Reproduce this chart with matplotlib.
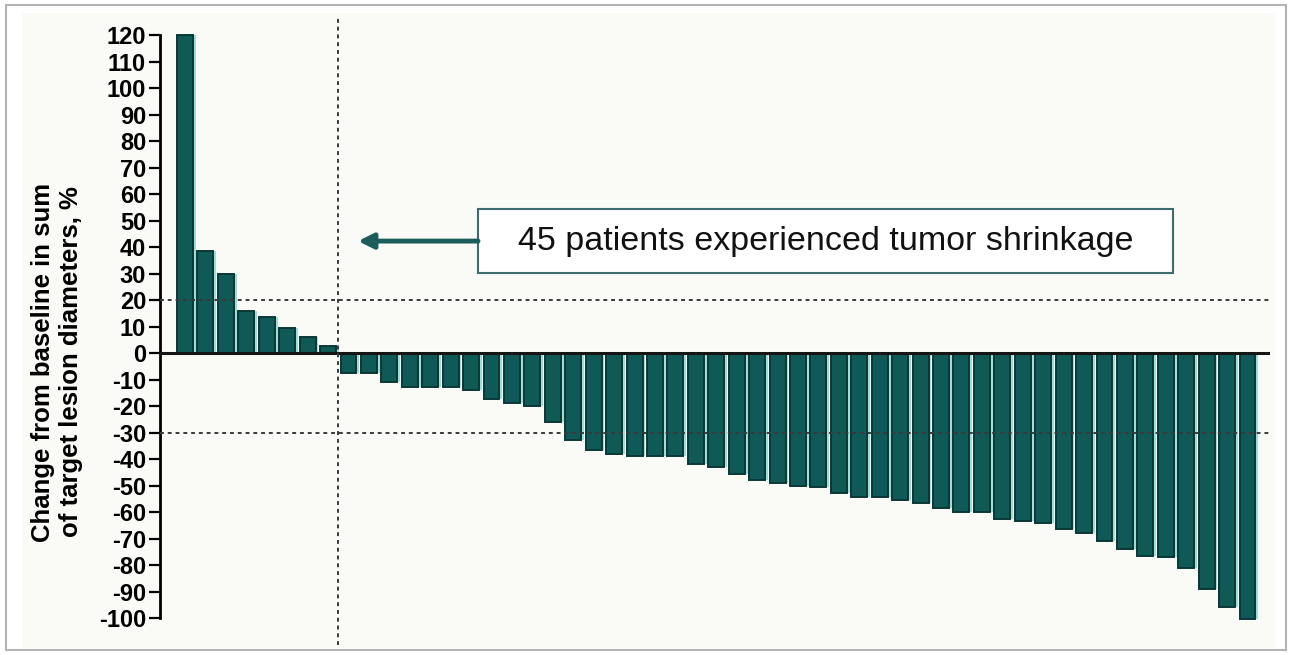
"""
Waterfall plot of best change in target lesion size per patient.
"""

import numpy as np
import matplotlib
matplotlib.use("Agg")
import matplotlib.pyplot as plt
from matplotlib.patches import Rectangle

plt.rcParams["font.family"] = ["Liberation Sans", "DejaVu Sans"]

# Best % change from baseline, one bar per patient, sorted
growth = [120, 38.5, 30, 16, 13.5, 9.5, 6, 2.5]
shrinkage = [-7.5, -7.5, -11, -13, -13, -13, -14, -17.5, -19, -20,
             -26, -33, -36.5, -38, -39, -39, -39, -42, -43, -45.5,
             -48, -49, -50, -50.5, -53, -54.5, -54.5, -55.5, -56.5, -58.5,
             -60, -60, -62.5, -63.5, -64, -66.5, -68, -71, -74, -76.5,
             -77, -81, -89, -96, -100.5]
changes = growth + shrinkage

y_ticks = list(range(-100, 121, 10))
response_cuts = [20, -30]  # progression / partial response thresholds
y_label = "Change from baseline in sum\nof target lesion diameters, %"
note = f"{len(shrinkage)} patients experienced tumor shrinkage"

BAR_COLOR = "#0f5a57"
BAR_EDGE = "#0a3836"
GLOW = "#9edcd6"
ARROW_COLOR = "#1c5c5b"

W, H = 1291, 655


def px_rect(x0, y0, x1, y1):
    """Pixel box (top-left origin) -> figure-fraction [l, b, w, h]."""
    return [x0 / W, 1 - y1 / H, (x1 - x0) / W, (y1 - y0) / H]


fig = plt.figure(figsize=(W / 100, H / 100), dpi=100)
fig.patch.set_facecolor("white")

# panel background and thin frame, kept behind the axes
fig.patches.append(Rectangle((22 / W, 1 - 648 / H), 1253 / W, 635 / H,
                             transform=fig.transFigure, facecolor="#fafaf7",
                             edgecolor="none", zorder=-5))
fig.patches.append(Rectangle((6 / W, 1 - 650 / H), 1280 / W, 645 / H,
                             transform=fig.transFigure, facecolor="none",
                             edgecolor="#b4b4b4", linewidth=1.5, zorder=-5))

ax = fig.add_axes(px_rect(160, 16.5, 1270, 644.5))
ax.set_facecolor("none")
ax.set_zorder(2)

x = np.arange(len(changes))
# light rim on the right of each bar, then the bar itself
ax.bar(x + 0.13, changes, width=0.8, color=GLOW, zorder=1)
ax.bar(x, changes, width=0.78, color=BAR_COLOR, edgecolor=BAR_EDGE,
       linewidth=1.4, zorder=2)

ax.axhline(0, color="#151515", linewidth=2.2, zorder=3)
for cut in response_cuts:
    ax.axhline(cut, color="#3a3a3a", linewidth=1.4, linestyle=(0, (2, 2)), zorder=4)
ax.axvline(len(growth) - 0.5, color="#3a3a3a", linewidth=1.4,
           linestyle=(0, (2, 2)), zorder=4)

ax.set_xlim(-1.224, 53.10)
ax.set_ylim(-110, 127)

for side in ("top", "right", "bottom"):
    ax.spines[side].set_visible(False)
ax.spines["left"].set_bounds(-100, 120)
ax.spines["left"].set_linewidth(2)
ax.set_xticks([])
ax.set_yticks(y_ticks)
ax.set_yticklabels([str(t) for t in y_ticks], fontsize=17, fontweight="bold")
ax.tick_params(axis="y", length=8, width=1.6, pad=2)

# annotation box with arrow pointing at the shrinkage group
box_x0, box_x1 = 14.34, 48.36
box_y0, box_y1 = 30.2, 54.3
ax.add_patch(Rectangle((box_x0, box_y0), box_x1 - box_x0, box_y1 - box_y0,
                       facecolor="white", edgecolor="#3d6d6c", linewidth=1.5,
                       zorder=5))
mid_y = (box_y0 + box_y1) / 2
ax.text((box_x0 + box_x1) / 2, mid_y, note, ha="center", va="center",
        fontsize=24.5, color="#111111", zorder=6)
ax.annotate("", xy=(8.47, mid_y), xytext=(box_x0, mid_y),
            arrowprops=dict(arrowstyle="-|>,head_width=0.45,head_length=0.9",
                            lw=3.5, color=ARROW_COLOR, shrinkA=0, shrinkB=0),
            zorder=6)

fig.text(57 / W, 1 - 362 / H, y_label, rotation=90, ha="center", va="center",
         fontsize=18.5, fontweight="bold", multialignment="center",
         linespacing=1.2)

fig.savefig("out.png", dpi=100)
